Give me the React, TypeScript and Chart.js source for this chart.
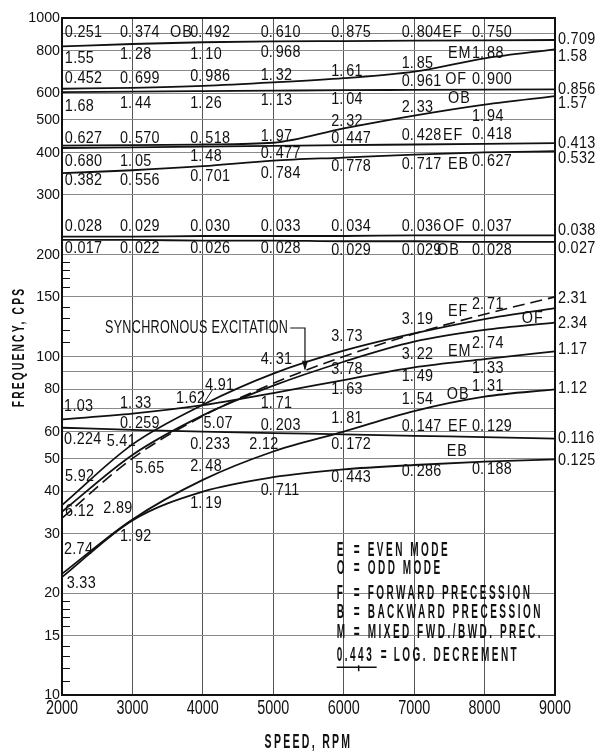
import React, { useEffect, useRef } from 'react';
import { Chart, registerables } from 'chart.js';

Chart.register(...registerables);

// ---------- data ----------
const speedRpm = [2000, 3000, 4000, 5000, 6000, 7000, 8000, 9000];

// upper band (cps)
const upperTopMode = [824, 838, 848, 853, 855, 857, 859, 861];
const upperEM = [618, 622, 630, 645, 664, 694, 760, 808];
const upperOF = [604, 606, 608, 610, 612, 613, 614, 615];
const upperOB = [420, 421, 423, 428, 472, 515, 555, 588];
const upperEF = [413, 415, 417, 419, 421, 423, 425, 427];
const upperEB = [348, 355, 365, 379, 387, 395, 401, 404];
const bandOF = [226, 226, 227, 227, 227, 228, 228, 228];
const bandOB = [221, 221, 220, 220, 219, 219, 218, 218];

// lower band (cps)
const syncExcitation = [33.3, 50, 66.7, 83.3, 100, 116.7, 133.3, 150];
const lowerEF = [36.4, 55, 72, 89, 104, 117, 129, 139];
const lowerOF = [34.8, 51.2, 67, 82, 96.5, 110.6, 119.8, 125.9];
const lowerEM = [65.2, 67.8, 71.8, 78, 85.2, 92.9, 98.3, 103.5];
const lowerOB = [22.8, 33, 43.2, 52.4, 60, 69, 76.1, 80];
const lowerEF2 = [61.6, 60.7, 60.0, 59.4, 58.9, 58.3, 57.8, 57.2];
const lowerEB = [22.3, 32.8, 39.9, 44, 46.4, 47.8, 48.9, 49.7];

const xTickLabels = [2000, 3000, 4000, 5000, 6000, 7000, 8000, 9000];
const yTickLabels = [10, 15, 20, 30, 40, 50, 60, 80, 100, 150, 200, 300, 400, 500, 600, 800, 1000];
const yExtraGrid = [70, 90, 700, 900];
const yMinorTicks = [11, 12, 13, 14, 16, 17, 18, 19, 110, 120, 130, 140, 160, 170, 180, 190];

// log-decrement labels: [text, rpm, cps, S = split on grid line / L = left]
type Lbl = [string, number, number, 'S' | 'L'];
const decrementLabels: Lbl[] = [
  ['0.251', 2040, 905, 'L'], ['0.374', 3000, 905, 'S'], ['0.492', 4000, 905, 'S'], ['0.610', 5000, 908, 'S'],
  ['0.875', 6000, 908, 'S'], ['0.804', 7000, 908, 'S'], ['0.750', 8000, 908, 'S'],
  ['1.55', 2040, 760, 'L'], ['1.28', 3000, 777, 'S'], ['1.10', 4000, 777, 'S'], ['0.968', 5000, 790, 'S'],
  ['1.61', 6000, 694, 'S'], ['1.85', 7000, 735, 'S'], ['1.88', 8000, 786, 'S'],
  ['0.452', 2040, 664, 'L'], ['0.699', 3000, 664, 'S'], ['0.986', 4000, 671, 'S'], ['1.32', 5000, 675, 'S'],
  ['0.961', 7000, 651, 'S'], ['0.900', 8000, 656, 'S'],
  ['1.68', 2040, 547, 'L'], ['1.44', 3000, 560, 'S'], ['1.26', 4000, 560, 'S'], ['1.13', 5000, 570, 'S'],
  ['1.04', 6000, 575, 'S'], ['2.32', 6000, 494, 'S'], ['2.33', 7000, 545, 'S'], ['1.94', 8000, 511, 'S'],
  ['0.627', 2040, 441, 'L'], ['0.570', 3000, 441, 'S'], ['0.518', 4000, 441, 'S'], ['1.97', 5000, 446, 'S'],
  ['0.447', 6000, 441, 'S'], ['0.428', 7000, 448, 'S'], ['0.418', 8000, 451, 'S'],
  ['0.680', 2040, 376, 'L'], ['1.05', 3000, 376, 'S'], ['1.48', 4000, 389, 'S'], ['0.477', 5000, 398, 'S'],
  ['0.778', 6000, 364, 'S'], ['0.717', 7000, 370, 'S'], ['0.627', 8000, 376, 'S'],
  ['0.382', 2040, 332, 'L'], ['0.556', 3000, 332, 'S'], ['0.701', 4000, 340, 'S'], ['0.784', 5000, 348, 'S'],
  ['0.028', 2040, 242, 'L'], ['0.029', 3000, 242, 'S'], ['0.030', 4000, 242, 'S'], ['0.033', 5000, 242, 'S'],
  ['0.034', 6000, 242, 'S'], ['0.036', 7000, 242, 'S'], ['0.037', 8000, 242, 'S'],
  ['0.017', 2040, 209, 'L'], ['0.022', 3000, 209, 'S'], ['0.026', 4000, 209, 'S'], ['0.028', 5000, 209, 'S'],
  ['0.029', 6000, 206, 'S'], ['0.029', 7000, 206, 'S'], ['0.028', 8000, 206, 'S'],
  ['1.03', 2030, 71.1, 'L'], ['1.33', 3000, 72.7, 'S'], ['1.62', 3620, 75.2, 'L'], ['4.91', 4031, 82.3, 'L'],
  ['4.31', 5000, 97.6, 'S'], ['3.73', 6000, 114.4, 'S'], ['3.19', 7000, 128.2, 'S'], ['2.71', 8000, 141.9, 'S'],
  ['3.78', 6000, 91.2, 'S'], ['3.22', 7000, 101, 'S'], ['2.74', 8000, 109.4, 'S'],
  ['1.71', 5000, 72.7, 'S'], ['1.63', 6000, 79.6, 'S'], ['1.49', 7000, 87.2, 'S'], ['1.33', 8000, 92.3, 'S'],
  ['5.07', 4010, 63.5, 'L'], ['0.259', 3000, 63.5, 'S'], ['0.224', 2030, 56.7, 'L'], ['5.41', 2635, 56.0, 'L'],
  ['0.233', 4000, 54.8, 'S'], ['0.203', 5000, 62.7, 'S'], ['0.172', 6000, 54.8, 'S'], ['0.147', 7000, 62.0, 'S'],
  ['0.129', 8000, 62.0, 'S'],
  ['2.12', 4660, 54.8, 'L'], ['1.81', 6000, 65.7, 'S'], ['1.54', 7000, 74.4, 'S'], ['1.31', 8000, 81.4, 'S'],
  ['5.65', 3040, 46.7, 'L'], ['2.48', 4000, 47.2, 'S'], ['5.92', 2043, 44.1, 'L'], ['6.12', 2043, 34.8, 'L'],
  ['2.89', 2586, 35.6, 'L'], ['1.19', 4000, 36.8, 'S'], ['0.711', 5000, 40.3, 'S'], ['0.443', 6000, 43.8, 'S'],
  ['0.286', 7000, 45.7, 'S'], ['0.188', 8000, 46.2, 'S'],
  ['1.92', 3000, 29.4, 'S'], ['2.74', 2028, 26.8, 'L'], ['3.33', 2067, 21.4, 'L'],
];

// decrements at 9000 rpm, printed outside the right border
const endLabels: [string, number][] = [
  ['0.709', 861], ['1.58', 769], ['0.856', 616], ['1.57', 560], ['0.413', 426], ['0.532', 385],
  ['0.038', 236], ['0.027', 209], ['2.31', 148.5], ['2.34', 125.3], ['1.17', 104.5], ['1.12', 80.5],
  ['0.116', 57.3], ['0.125', 49.4],
];

// mode tags: [text, rpm, cps]
const modeTags: [string, number, number][] = [
  ['OB', 3534, 905], ['EF', 7400, 908], ['EM', 7480, 786], ['OF', 7440, 656], ['OB', 7480, 579],
  ['EF', 7410, 448], ['EB', 7480, 370], ['OF', 7410, 242], ['OB', 7325, 206],
  ['EF', 7481, 135.6], ['OF', 8528, 129.7], ['EM', 7481, 103.3], ['OB', 7463, 77.0], ['EF', 7481, 62.0],
  ['EB', 7463, 52.3],
];

const legendSymbols = ['E', 'O', 'F', 'B', 'M'];
const legendMeanings = ['EVEN MODE', 'ODD MODE', 'FORWARD PRECESSION', 'BACKWARD PRECESSION', 'MIXED FWD./BWD. PREC.'];
const legendRowCps = [26.8, 23.6, 20.0, 17.5, 15.25, 13.1];
const legendRpm = 5900;

const calloutText = 'SYNCHRONOUS EXCITATION';
const calloutAnchor = [2610, 121.4];
const calloutTarget = [5450, 90.8];

// ---------- drawing helpers ----------
type TOpt = { size: number; bold?: boolean; sx?: number; ls?: number; align?: CanvasTextAlign; rot?: number };
function drawText(ctx: CanvasRenderingContext2D, text: string, x: number, y: number, o: TOpt): number {
  const sx = o.sx ?? 1;
  ctx.save();
  ctx.translate(x, y);
  if (o.rot) ctx.rotate(o.rot);
  ctx.scale(sx, 1);
  ctx.font = `${o.bold ? 'bold ' : ''}${o.size}px "Liberation Sans", Arial, sans-serif`;
  (ctx as any).letterSpacing = `${(o.ls ?? 0) / sx}px`;
  ctx.textAlign = o.align ?? 'left';
  ctx.textBaseline = 'middle';
  ctx.fillStyle = '#111';
  ctx.fillText(text, 0, 0);
  const w = ctx.measureText(text).width * sx;
  ctx.restore();
  return w;
}

const LBL: TOpt = { size: 16, sx: 0.9, ls: 0.3 };

const annotatePlugin = {
  id: 'annotate',
  afterDatasetsDraw(chart: any) {
    const { ctx, chartArea: a, scales } = chart;
    const xs = scales.x;
    const ys = scales.y;
    const px = (v: number) => xs.getPixelForValue(v);
    const py = (v: number) => ys.getPixelForValue(v);

    ctx.save();
    // frame
    ctx.strokeStyle = '#111';
    ctx.lineWidth = 2;
    ctx.strokeRect(a.left, a.top, a.right - a.left, a.bottom - a.top);

    // minor ticks inside left axis
    ctx.lineWidth = 1.2;
    ctx.beginPath();
    yMinorTicks.forEach((v) => {
      const y = Math.round(py(v)) + 0.5;
      ctx.moveTo(a.left, y);
      ctx.lineTo(a.left + 8, y);
    });
    ctx.stroke();

    // y tick labels
    yTickLabels.forEach((v) => drawText(ctx, String(v), a.left - 2, py(v), { size: 15, sx: 0.95, align: 'right' }));
    // x tick labels
    xTickLabels.forEach((v) => drawText(ctx, String(v), px(v), a.bottom + 13, { size: 20, sx: 0.72, align: 'center' }));

    // axis titles
    drawText(ctx, 'SPEED, RPM', (a.left + a.right) / 2, a.bottom + 47, { size: 21, bold: true, sx: 0.5, ls: 2.3, align: 'center' });
    drawText(ctx, 'FREQUENCY, CPS', 19, 347, { size: 17, bold: true, sx: 0.6, ls: 2.2, align: 'center', rot: -Math.PI / 2 });

    // decrement labels
    decrementLabels.forEach(([t, r, c, k]) => {
      const x = px(r);
      const y = py(c);
      if (k === 'S') {
        const i = t.indexOf('.');
        drawText(ctx, t.slice(0, i + 1), x - 0.5, y, { ...LBL, align: 'right', ls: 0 });
        drawText(ctx, t.slice(i + 1), x + 2.5, y, LBL);
      } else {
        drawText(ctx, t, x, y, LBL);
      }
    });
    endLabels.forEach(([t, c]) => drawText(ctx, t, a.right + 3, py(c), LBL));
    modeTags.forEach(([t, r, c]) => drawText(ctx, t, px(r), py(c), { ...LBL, ls: 1 }));

    // 4.91 leader
    ctx.lineWidth = 1;
    ctx.beginPath();
    ctx.moveTo(px(4000), py(72));
    ctx.lineTo(px(4140), py(80));
    ctx.stroke();

    // synchronous excitation callout
    const cx = px(calloutAnchor[0]);
    const cy = py(calloutAnchor[1]);
    const w = drawText(ctx, calloutText, cx, cy, { size: 18, sx: 0.7, ls: 0.3 });
    const tx = px(calloutTarget[0]);
    const ty = py(calloutTarget[1]);
    ctx.lineWidth = 1.2;
    ctx.beginPath();
    ctx.moveTo(cx + w + 2, cy);
    ctx.lineTo(tx, cy);
    ctx.lineTo(tx, ty - 2);
    ctx.stroke();
    ctx.beginPath();
    ctx.moveTo(tx, ty);
    ctx.lineTo(tx - 3, ty - 10);
    ctx.lineTo(tx + 3, ty - 10);
    ctx.closePath();
    ctx.fillStyle = '#111';
    ctx.fill();

    // legend block
    const lx = px(legendRpm);
    const LG: TOpt = { size: 20, bold: true, sx: 0.5, ls: 2.5 };
    legendSymbols.forEach((s, i) => {
      const y = py(legendRowCps[i]);
      drawText(ctx, s, lx, y, LG);
      drawText(ctx, '=', lx + 17, y, LG);
      drawText(ctx, legendMeanings[i], lx + 31, y, LG);
    });
    const ly = py(legendRowCps[5]);
    const w2 = drawText(ctx, '0.443', lx, ly, LG);
    drawText(ctx, '=', lx + 44, ly, LG);
    drawText(ctx, 'LOG. DECREMENT', lx + 57, ly, LG);
    ctx.lineWidth = 1.5;
    ctx.beginPath();
    ctx.moveTo(lx, ly + 12);
    ctx.lineTo(lx + Math.max(w2, 40), ly + 12);
    ctx.moveTo(lx + 22, ly + 10);
    ctx.lineTo(lx + 22, ly + 16);
    ctx.stroke();
    ctx.restore();
  },
};

function series(values: number[]) {
  return speedRpm.map((x, i) => ({ x, y: values[i] }));
}

export default function App() {
  const ref = useRef<HTMLCanvasElement | null>(null);
  useEffect(() => {
    document.body.style.margin = '0';
    const canvas = ref.current;
    if (!canvas) return;
    const solid = [
      upperTopMode, upperEM, upperOF, upperOB, upperEF, upperEB, bandOF, bandOB,
      lowerEF, lowerOF, lowerEM, lowerOB, lowerEF2, lowerEB,
    ];
    const datasets: any[] = solid.map((vals) => ({
      data: series(vals),
      borderColor: '#111',
      borderWidth: 1.8,
      pointRadius: (c: any) => (c.dataIndex === speedRpm.length - 1 ? 3 : 0),
      pointStyle: 'line',
      rotation: 90,
      pointBorderWidth: 2,
      pointBorderColor: '#111',
      cubicInterpolationMode: 'monotone',
      fill: false,
      clip: false,
    }));
    datasets.push({
      data: series(syncExcitation),
      borderColor: '#111',
      borderWidth: 1.6,
      borderDash: [12, 6],
      pointRadius: 0,
      cubicInterpolationMode: 'monotone',
      fill: false,
      clip: false,
    });
    const allY = [...yTickLabels, ...yExtraGrid, ...yMinorTicks].sort((p, q) => p - q);
    const chart = new Chart(canvas, {
      type: 'line',
      data: { datasets },
      options: {
        responsive: false,
        animation: false,
        devicePixelRatio: 1,
        layout: { padding: { top: 18, right: 45, left: 0, bottom: 0 } },
        plugins: { legend: { display: false }, tooltip: { enabled: false }, title: { display: false } },
        scales: {
          x: {
            type: 'linear',
            min: 2000,
            max: 9000,
            afterBuildTicks: (s: any) => { s.ticks = xTickLabels.map((v) => ({ value: v })); },
            ticks: { display: false },
            grid: { color: '#555', lineWidth: 1, drawTicks: false },
            border: { display: false },
            afterFit: (s: any) => { s.height = 59; },
          },
          y: {
            type: 'logarithmic',
            min: 10,
            max: 1000,
            afterBuildTicks: (s: any) => { s.ticks = allY.map((v) => ({ value: v })); },
            ticks: { display: false },
            grid: {
              color: (c: any) => (c.tick && yMinorTicks.includes(c.tick.value) ? 'rgba(0,0,0,0)' : '#8a8a8a'),
              lineWidth: 1,
              drawTicks: false,
            },
            border: { display: false },
            afterFit: (s: any) => { s.width = 62; },
          },
        },
      } as any,
      plugins: [annotatePlugin],
    });
    return () => chart.destroy();
  }, []);
  return (
    <div style={{ width: 600, height: 754 }}>
      <canvas ref={ref} width={600} height={754} style={{ display: 'block' }} />
    </div>
  );
}
